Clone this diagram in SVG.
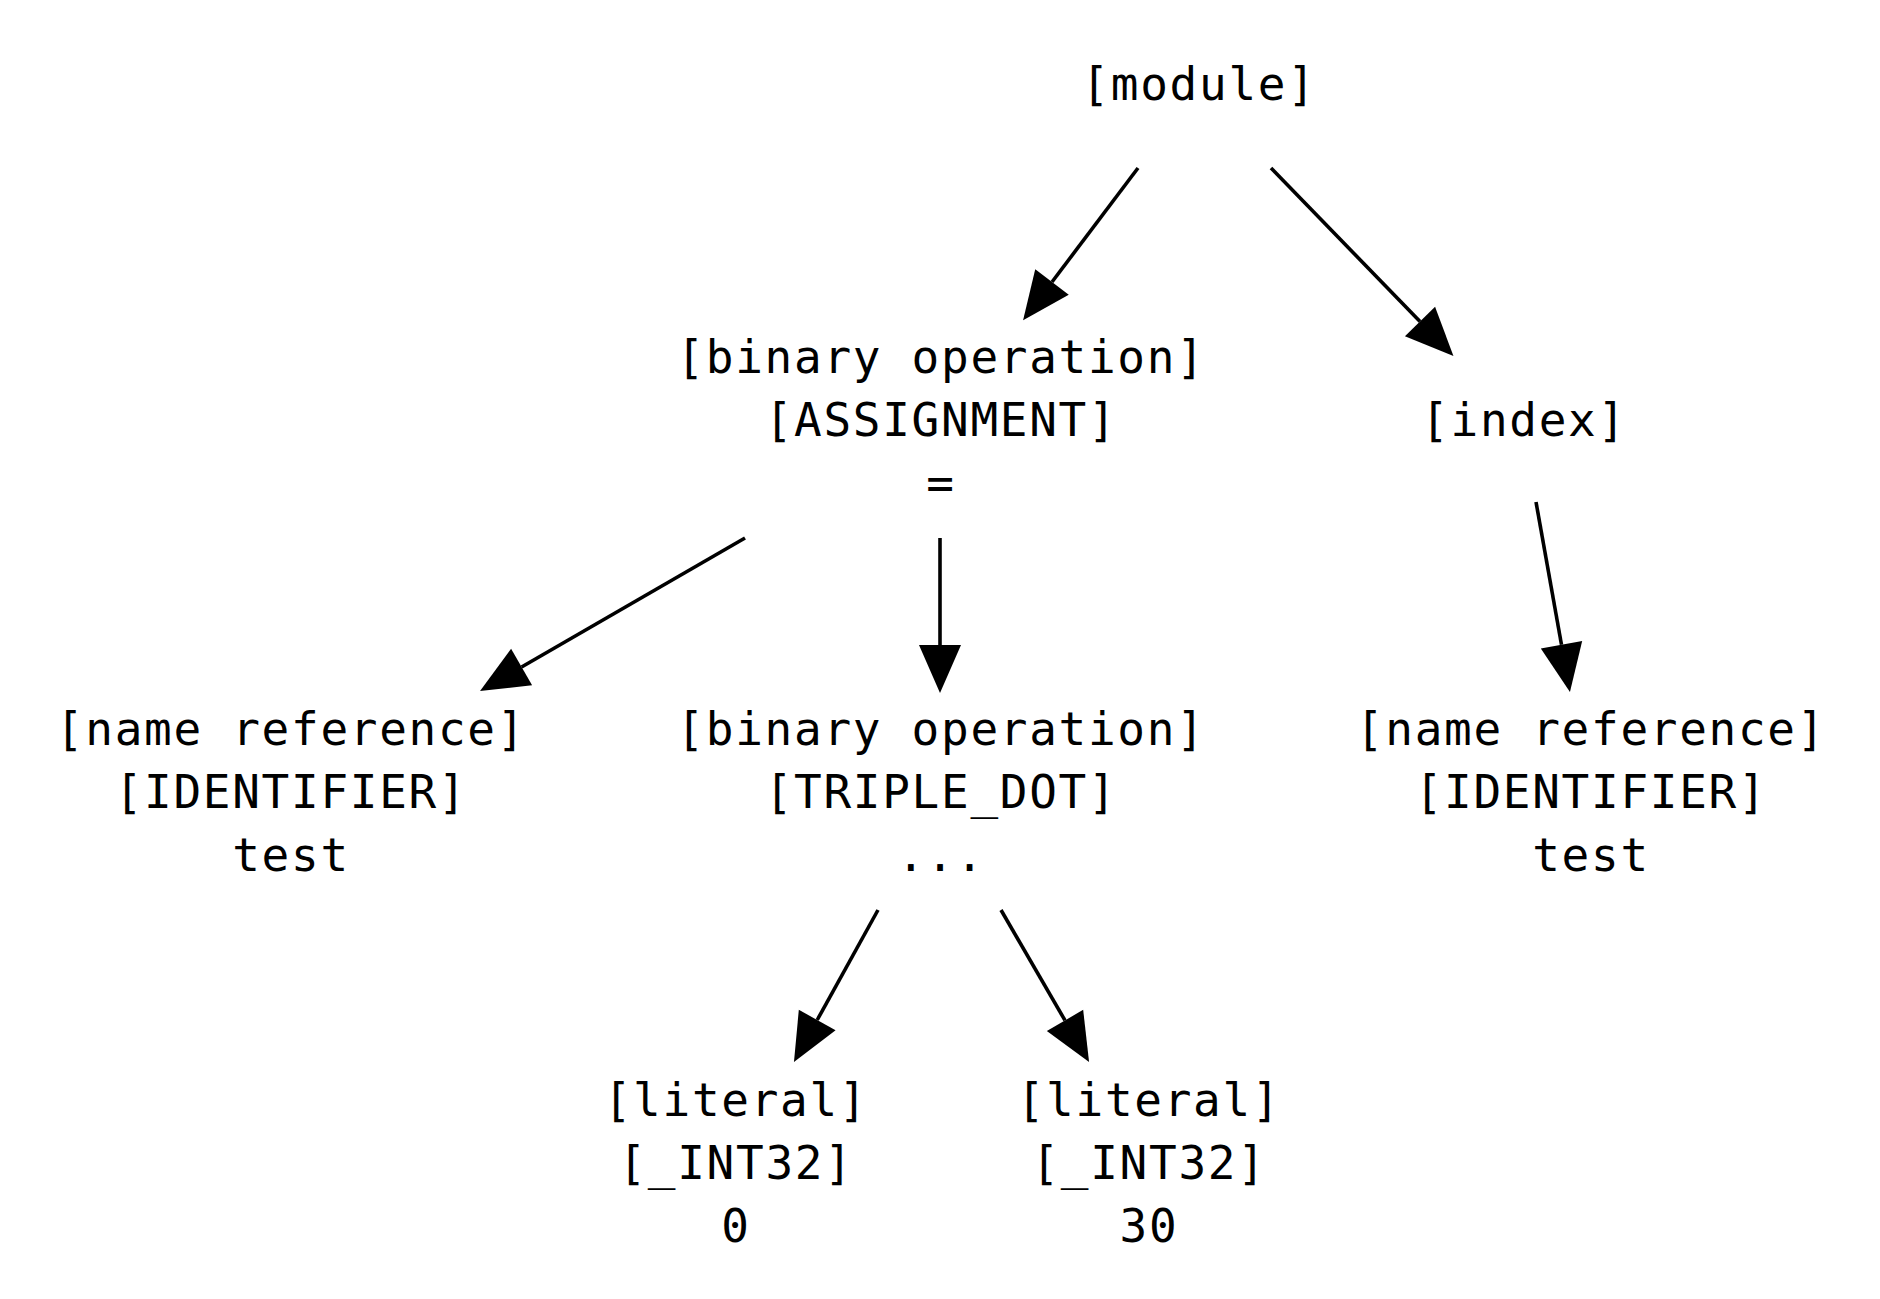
<svg xmlns="http://www.w3.org/2000/svg" width="1880" height="1299" viewBox="0 0 1880 1299">
<style>
text{font-family:"DejaVu Sans Mono","Liberation Mono",monospace;font-size:46px;letter-spacing:1.7px;fill:#000;text-anchor:middle}
.e{stroke:#000;stroke-width:3.6;fill:none}
</style>
<defs>
<marker id="ah" markerUnits="userSpaceOnUse" viewBox="0 -21 48 42" markerWidth="48" markerHeight="42" refX="0" refY="0" orient="auto" overflow="visible">
<path d="M0,-21 L48,0 L0,21 Z" fill="#000"/>
</marker>
</defs>
<rect width="1880" height="1299" fill="#fff"/>
<g id="connectors">
<line class="e" x1="1138" y1="168" x2="1052" y2="282" marker-end="url(#ah)"/>
<line class="e" x1="1271" y1="168" x2="1420" y2="321.5" marker-end="url(#ah)"/>
<line class="e" x1="745" y1="538" x2="521.6" y2="667" marker-end="url(#ah)"/>
<line class="e" x1="940" y1="538" x2="940" y2="645" marker-end="url(#ah)"/>
<line class="e" x1="1536" y1="502" x2="1561.5" y2="644.8" marker-end="url(#ah)"/>
<line class="e" x1="878" y1="910" x2="817.2" y2="1020" marker-end="url(#ah)"/>
<line class="e" x1="1001" y1="910" x2="1065" y2="1020.4" marker-end="url(#ah)"/>
</g>
<g id="module"><text x="1199" y="100">[module]</text></g>
<g id="binop_assign"><text x="941" y="373">[binary operation]</text><text x="941" y="436">[ASSIGNMENT]</text><text x="941" y="499">=</text></g>
<g id="index"><text x="1524" y="436">[index]</text></g>
<g id="nameref_left"><text x="291" y="745">[name reference]</text><text x="291" y="808">[IDENTIFIER]</text><text x="291" y="871">test</text></g>
<g id="binop_triple"><text x="941" y="745">[binary operation]</text><text x="941" y="808">[TRIPLE_DOT]</text><text x="941" y="871">...</text></g>
<g id="nameref_right"><text x="1591" y="745">[name reference]</text><text x="1591" y="808">[IDENTIFIER]</text><text x="1591" y="871">test</text></g>
<g id="literal_0"><text x="736" y="1116">[literal]</text><text x="736" y="1179">[_INT32]</text><text x="736" y="1242">0</text></g>
<g id="literal_30"><text x="1149" y="1116">[literal]</text><text x="1149" y="1179">[_INT32]</text><text x="1149" y="1242">30</text></g>
</svg>
